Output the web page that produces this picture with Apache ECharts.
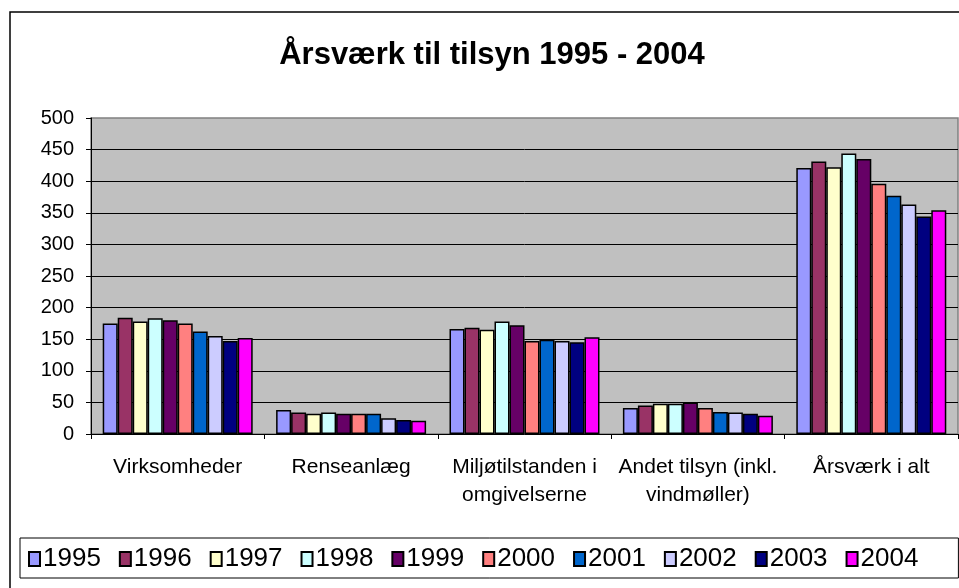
<!DOCTYPE html>
<html>
<head>
<meta charset="utf-8">
<script src="https://cdn.jsdelivr.net/npm/echarts@6/dist/echarts.min.js"></script>
<style>
  html, body { margin: 0; padding: 0; background: #ffffff; }
  #chart { width: 959px; height: 588px; }
</style>
</head>
<body>
<div id="chart"></div>
<script>
// Categories along the x axis
const categories = [
  'Virksomheder',
  'Renseanlæg',
  'Miljøtilstanden i\nomgivelserne',
  'Andet tilsyn (inkl.\nvindmøller)',
  'Årsværk i alt'
];

// Years shown as series
const years = ['1995', '1996', '1997', '1998', '1999', '2000', '2001', '2002', '2003', '2004'];

// Årsværk per category, one array per year
const v1995 = [175, 38, 166, 41, 421];
const v1996 = [184, 34, 168, 45, 431];
const v1997 = [178, 32, 165, 48, 422];
const v1998 = [183, 34, 178, 48, 444];
const v1999 = [180, 32, 172, 50, 435];
const v2000 = [175, 32, 147, 41, 396];
const v2001 = [162, 32, 149, 35, 377];
const v2002 = [155, 25, 147, 34, 363];
const v2003 = [147, 22, 145, 32, 344];
const v2004 = [152, 21, 153, 29, 354];

const seriesValues = [v1995, v1996, v1997, v1998, v1999, v2000, v2001, v2002, v2003, v2004];

// Classic spreadsheet palette
const colors = ['#9999FF', '#993366', '#FFFFCC', '#CCFFFF', '#660066',
                '#FF8080', '#0066CC', '#CCCCFF', '#000080', '#FF00FF'];

const FONT = 'Liberation Sans, Arial, sans-serif';

const chart = echarts.init(document.getElementById('chart'), null, { renderer: 'canvas' });

chart.setOption({
  animation: false,
  backgroundColor: '#ffffff',
  color: colors,
  title: {
    text: 'Årsværk til tilsyn 1995 - 2004',
    left: 487,
    textAlign: 'center',
    top: 35,
    textStyle: { fontFamily: FONT, fontSize: 31, fontWeight: 'bold', color: '#000' }
  },
  graphic: [{
    type: 'rect',
    shape: { x: 10, y: 12, width: 1000, height: 1000 },
    style: { fill: 'none', stroke: '#000', lineWidth: 1.5 },
    silent: true,
    z: -1
  }],
  legend: {
    data: years,
    left: 20,
    top: 538,
    orient: 'horizontal',
    icon: 'rect',
    itemWidth: 11,
    itemHeight: 14,
    itemGap: 18,
    padding: [8, 40, 6, 8],
    borderColor: '#000',
    borderWidth: 1,
    textStyle: { fontFamily: FONT, fontSize: 26, color: '#000', padding: [0, 0, 0, -2] }
  },
  grid: {
    left: 91,
    right: 1,
    top: 118,
    bottom: 154,
    show: true,
    backgroundColor: '#C0C0C0',
    borderColor: '#808080',
    borderWidth: 1.5
  },
  xAxis: {
    type: 'category',
    data: categories,
    axisLine: { show: true, lineStyle: { color: '#000', width: 1 } },
    axisTick: { show: true, length: 5, lineStyle: { color: '#000' } },
    axisLabel: {
      interval: 0,
      margin: 19,
      fontFamily: FONT,
      fontSize: 21,
      lineHeight: 28,
      color: '#000'
    }
  },
  yAxis: {
    type: 'value',
    min: 0,
    max: 500,
    interval: 50,
    axisLine: { show: true, lineStyle: { color: '#000', width: 1 } },
    axisTick: { show: true, length: 5, lineStyle: { color: '#000' } },
    axisLabel: { margin: 17, fontFamily: FONT, fontSize: 20, color: '#000' },
    splitLine: { show: true, showMinLine: false, showMaxLine: false, lineStyle: { color: '#000', width: 1 } }
  },
  series: years.map((y, i) => ({
    name: y,
    type: 'bar',
    data: seriesValues[i],
    barGap: '0%',
    barCategoryGap: '13.5%',
    itemStyle: { color: colors[i], borderColor: '#000', borderWidth: 1.5 }
  }))
});
</script>
</body>
</html>
